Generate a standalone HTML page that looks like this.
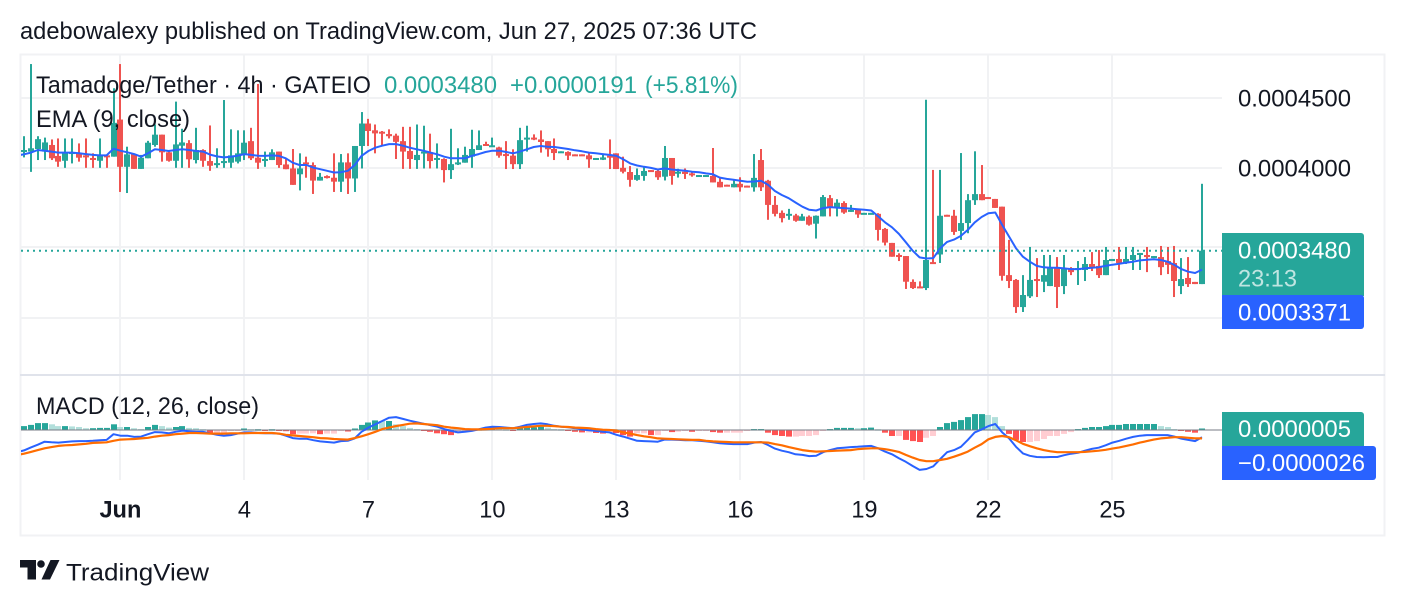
<!DOCTYPE html>
<html lang="en">
<head>
<meta charset="utf-8">
<title>Tamadoge/Tether chart</title>
<style>
html,body{margin:0;padding:0;background:#fff;width:1404px;height:606px;overflow:hidden}
svg{display:block}
text{font-family:"Liberation Sans",sans-serif;font-size:23.6px;fill:#131722}
.up{fill:#26a69a}
.w{fill:#fff}
</style>
</head>
<body>
<svg id="chart" xmlns="http://www.w3.org/2000/svg" width="1404" height="606" viewBox="0 0 1404 606">
  <defs>
    <clipPath id="plot"><rect x="21" y="55" width="1201" height="320"/></clipPath>
    <clipPath id="macdplot"><rect x="21" y="377" width="1201" height="103"/></clipPath>
  </defs>
  <text x="20" y="39" textLength="737" lengthAdjust="spacingAndGlyphs">adebowalexy published on TradingView.com, Jun 27, 2025 07:36 UTC</text>

  <rect x="20.5" y="54.5" width="1364" height="481" fill="none" stroke="#f1f2f4" stroke-width="2"/>

  <g id="grid"></g>
  <g id="candles" clip-path="url(#plot)"></g>
  <polyline id="emaLine" fill="none" stroke="#2962ff" stroke-width="2" stroke-linejoin="round" clip-path="url(#plot)"/>
  <line id="lastPriceLine" x1="21" x2="1222" stroke="#26a69a" stroke-width="2" stroke-dasharray="2 4"/>

  <rect x="20" y="374" width="1365" height="2" fill="#e0e3eb"/>

  <g id="hist" clip-path="url(#macdplot)"></g>
  <line id="zeroLine" x1="21" x2="1222" stroke="#787b86" stroke-opacity="0.5" stroke-width="2"/>
  <polyline id="macdLine" fill="none" stroke="#2962ff" stroke-width="2" stroke-linejoin="round" clip-path="url(#macdplot)"/>
  <polyline id="signalLine" fill="none" stroke="#ff6d00" stroke-width="2.2" stroke-linejoin="round" clip-path="url(#macdplot)"/>

  <text x="36" y="93" textLength="335" lengthAdjust="spacingAndGlyphs">Tamadoge/Tether · 4h · GATEIO</text>
  <text class="up" x="384" y="93" textLength="113" lengthAdjust="spacingAndGlyphs">0.0003480</text>
  <text class="up" x="510" y="93" textLength="127" lengthAdjust="spacingAndGlyphs">+0.0000191</text>
  <text class="up" x="645" y="93" textLength="93" lengthAdjust="spacingAndGlyphs">(+5.81%)</text>
  <text x="36" y="127" textLength="154" lengthAdjust="spacingAndGlyphs">EMA (9, close)</text>
  <text x="36" y="414" textLength="223" lengthAdjust="spacingAndGlyphs">MACD (12, 26, close)</text>

  <g id="priceLabels"></g>
  <g id="timeLabels"></g>

  <path d="M1222 233H1361a3 3 0 0 1 3 3V296H1222Z" fill="#26a69a"/>
  <text class="w" x="1238" y="258.5" textLength="113" lengthAdjust="spacingAndGlyphs">0.0003480</text>
  <text x="1238" y="286.7" textLength="59" lengthAdjust="spacingAndGlyphs" style="fill:#bfe5e1">23:13</text>
  <path d="M1222 295H1361a3 3 0 0 1 3 3V326a3 3 0 0 1-3 3H1222Z" fill="#2962ff"/>
  <text class="w" x="1238" y="320.5" textLength="113" lengthAdjust="spacingAndGlyphs">0.0003371</text>
  <path d="M1222 412H1361a3 3 0 0 1 3 3V447H1222Z" fill="#26a69a"/>
  <text class="w" x="1238" y="437" textLength="113" lengthAdjust="spacingAndGlyphs">0.0000005</text>
  <path d="M1222 446H1373a3 3 0 0 1 3 3V477a3 3 0 0 1-3 3H1222Z" fill="#2962ff"/>
  <text class="w" x="1238" y="471" textLength="127" lengthAdjust="spacingAndGlyphs">−0.0000026</text>

  <g fill="#131722">
    <path d="M20 560H36V579.5H27.5V567.5H20Z"/>
    <circle cx="41" cy="564" r="3.8"/>
    <path d="M50.5 560H59.5L50 579.5H41.5Z"/>
  </g>
  <text x="66" y="580.5" textLength="143" lengthAdjust="spacingAndGlyphs" style="font-size:24.5px">TradingView</text>
</svg>

<script>
// All prices and indicator values are in units of 0.0000001.
// The first entry is a bar that sits just off the left edge of the plot.
const opens = [4100,4112,4112,4130,4112,4158,4082,4049,4100,4100,4086,
4068,4049,4086,4077,4340,4008,4095,3994,4066,4158,
4231,4107,4049,4153,4171,4054,4123,4047,4020,4036,
4036,4043,4095,4185,4070,4049,4054,4112,4024,3997,
3958,4038,4020,3916,3946,3935,3909,4038,3930,4151,
4311,4262,4252,4235,4224,4185,4116,4054,4100,4107,
4056,4061,3986,4024,4036,4077,4123,4165,4146,4141,
4095,4084,4026,4199,4210,4197,4185,4130,4105,4109,
4093,4093,4086,4056,4056,4084,4100,4001,3973,3921,
3947,3986,3980,3942,4068,3964,3975,3964,3942,3942,
3947,3908,3889,3872,3895,3883,3872,4054,3915,3759,
3709,3693,3693,3660,3685,3642,3687,3802,3739,3771,
3715,3728,3699,3699,3703,3610,3526,3455,3449,3302,
3277,3268,3414,3458,3697,3691,3598,3646,3789,3828,
3809,3797,3748,3340,3313,3165,3223,3318,3303,3279,
3385,3279,3380,3369,3369,3403,3392,3340,3420,3432,
3409,3426,3455,3455,3437,3443,3420,3409,3279,3324,
3302,3290];
const highs = [4150,4220,4765,4220,4210,4197,4204,4204,4204,4169,4204,
4100,4204,4086,4575,4765,4146,4095,4089,4187,4304,
4231,4112,4473,4273,4192,4280,4128,4297,4135,4485,
4269,4262,4262,4280,4608,4112,4128,4112,4066,4130,
4100,4077,4038,3967,3951,4100,4095,4100,4151,4395,
4345,4304,4257,4269,4238,4287,4287,4304,4295,4238,
4169,4066,4273,4135,4146,4266,4261,4181,4210,4146,
4185,4128,4280,4295,4233,4261,4185,4204,4114,4114,
4093,4093,4100,4068,4093,4197,4100,4077,4013,3997,
4008,3986,3993,4151,4068,3995,3997,3971,3953,3953,
4137,3932,3889,3925,3938,3883,4095,4130,3921,3816,
3724,3734,3703,3703,3693,3693,3822,3822,3795,3782,
3759,3728,3709,3709,3707,3616,3526,3465,3449,3316,
3305,4487,3987,3987,3697,3728,4102,3828,4114,4020,
3809,3797,3748,3544,3318,3340,3502,3437,3455,3455,
3443,3455,3385,3420,3443,3472,3484,3502,3432,3502,
3502,3502,3467,3502,3449,3508,3502,3508,3437,3443,
3302,3895];
const lows = [4060,4072,3974,4054,4054,4054,4008,4001,4031,4043,4001,
4001,4001,4001,4077,3842,3835,3994,3994,4066,4146,
4043,4043,4001,4001,4001,4031,4008,3981,4001,4001,
4001,4031,4054,4054,3994,4008,4054,4001,3992,3888,
3852,3935,3829,3916,3930,3842,3842,3829,3842,3997,
4151,4100,4153,4204,4061,3994,3994,3994,3997,3997,
3997,3904,3927,4020,4036,4001,4123,4151,4146,4070,
3993,3993,3993,4112,4192,4105,4077,4054,4105,4054,
4084,4084,4001,4056,4054,3993,3993,3964,3876,3915,
3915,3975,3921,3917,3889,3936,3927,3942,3942,3942,
3904,3872,3878,3872,3844,3872,3844,3848,3666,3687,
3650,3666,3654,3660,3630,3552,3687,3687,3687,3703,
3715,3678,3699,3699,3540,3511,3445,3420,3263,3263,
3268,3257,3403,3409,3687,3574,3544,3584,3759,3789,
3797,3740,3309,3268,3134,3139,3214,3219,3246,3279,
3160,3235,3340,3285,3307,3363,3324,3340,3420,3369,
3403,3369,3369,3357,3437,3340,3346,3219,3235,3274,
3290,3290];
const closes = [4112,4123,4135,4199,4176,4066,4043,4105,4109,4070,4072,
4056,4086,4077,4316,4008,4093,3994,4070,4174,4231,
4107,4049,4162,4176,4059,4123,4049,4015,4033,4047,
4086,4100,4174,4066,4036,4061,4107,4020,3992,3888,
3997,4026,3916,3941,3937,3909,4038,3930,4151,4311,
4257,4240,4240,4220,4180,4112,4061,4089,4112,4047,
4068,3986,4026,4038,4089,4130,4156,4151,4156,4084,
4084,4026,4192,4210,4199,4179,4128,4102,4114,4084,
4084,4084,4059,4068,4072,4070,3993,3975,3921,3953,
3980,3975,3938,4068,3947,3975,3960,3953,3953,3953,
3904,3872,3878,3895,3872,3872,3934,3872,3759,3703,
3676,3703,3660,3687,3636,3691,3809,3744,3773,3711,
3728,3699,3709,3709,3604,3528,3445,3447,3303,3268,
3268,3426,3403,3691,3687,3592,3646,3789,3828,3789,
3797,3740,3336,3307,3165,3230,3313,3307,3340,3385,
3274,3380,3357,3380,3403,3385,3340,3426,3432,3409,
3432,3455,3467,3443,3449,3385,3398,3307,3318,3290,
3290,3480];
const ema = [4085,4093,4105,4123,4118,4112,4105,4105,4105,4100,4095,
4089,4086,4086,4132,4118,4107,4095,4077,4100,4128,
4123,4116,4123,4128,4123,4116,4112,4091,4079,4072,
4077,4084,4095,4089,4084,4082,4086,4082,4066,4036,
4020,4020,4003,3992,3981,3970,3972,3981,4020,4082,
4116,4139,4153,4164,4164,4153,4139,4128,4118,4105,
4093,4077,4066,4066,4066,4082,4095,4109,4118,4118,
4109,4100,4112,4128,4144,4151,4146,4144,4137,4130,
4121,4114,4105,4100,4095,4089,4082,4059,4031,4017,
4008,4001,3990,3997,3990,3986,3982,3975,3971,3964,
3958,3936,3927,3921,3915,3908,3910,3915,3889,3848,
3822,3802,3774,3748,3728,3724,3739,3745,3742,3739,
3736,3732,3728,3724,3687,3650,3620,3580,3530,3480,
3441,3435,3437,3494,3532,3546,3568,3604,3650,3683,
3707,3711,3634,3564,3494,3445,3416,3392,3384,3382,
3382,3378,3374,3374,3378,3382,3385,3392,3399,3405,
3411,3416,3424,3428,3430,3426,3416,3398,3374,3359,
3352,3371];
const macd = [-74,-68,-58,-49,-39,-41,-42,-40,-38,-37,-37,
-36,-34,-33,-14,-19,-19,-23,-22,-14,-7,
-8,-11,-6,-2,-4,-6,-6,-11,-16,-19,
-17,-12,-8,-8,-10,-11,-11,-12,-19,-27,
-29,-29,-34,-38,-40,-42,-37,-36,-28,-6,
8,19,30,41,43,37,31,26,21,16,
11,3,-3,-8,-6,-3,2,8,11,10,
8,6,11,17,20,22,19,14,11,9,
6,2,-1,-3,-6,-8,-16,-22,-29,-36,
-37,-38,-39,-32,-32,-33,-34,-34,-36,-38,
-41,-44,-46,-47,-47,-47,-42,-40,-50,-62,
-69,-74,-81,-83,-87,-86,-74,-67,-61,-59,
-57,-56,-54,-53,-61,-72,-81,-94,-106,-120,
-133,-130,-121,-97,-74,-67,-56,-33,-8,2,
13,20,-8,-28,-56,-78,-86,-90,-91,-90,
-90,-84,-79,-76,-69,-63,-59,-51,-42,-36,
-29,-23,-19,-17,-17,-17,-17,-22,-29,-33,
-37,-24];
const signal = [-83,-79,-73,-67,-61,-57,-53,-51,-50,-48,-46,
-43,-42,-41,-36,-32,-31,-30,-28,-26,-22,
-19,-17,-14,-12,-10,-10,-11,-12,-12,-12,
-11,-11,-11,-10,-10,-10,-10,-12,-16,-18,
-20,-22,-24,-27,-28,-30,-31,-32,-27,-21,
-14,-6,3,8,13,17,21,22,20,18,
16,11,8,6,3,2,2,3,4,6,
6,6,8,10,12,14,14,13,11,10,
8,7,6,3,1,0,-2,-8,-12,-17,
-21,-24,-28,-29,-30,-31,-32,-33,-33,-36,
-38,-39,-40,-41,-41,-41,-41,-41,-42,-47,
-51,-57,-62,-67,-70,-72,-71,-70,-69,-68,
-67,-64,-62,-61,-61,-64,-68,-73,-83,-92,
-100,-104,-104,-100,-96,-89,-81,-72,-59,-47,
-31,-23,-20,-24,-34,-46,-54,-61,-67,-71,
-74,-74,-74,-74,-73,-71,-69,-66,-62,-58,
-53,-48,-42,-37,-32,-28,-26,-24,-24,-26,
-28,-28];
const histogram = [10,13,17,23,23,19,13,13,12,10,6,
6,7,7,19,10,10,6,3,10,17,
13,8,10,13,7,6,2,-11,-11,-11,
-3,-3,5,2,2,-3,2,-3,-4,-14,
-12,-12,-11,-14,-12,-12,-3,-5,5,17,
25,32,30,30,19,13,7,3,-3,-6,
-11,-14,-17,-11,-6,2,2,5,8,4,
2,-3,6,9,9,11,8,3,2,-3,
-6,-8,-8,-10,-12,-8,-10,-17,-22,-11,
-11,-17,-17,-3,-7,-6,-2,-6,-2,-2,
-7,-9,-9,-9,-9,-3,3,3,-9,-17,
-20,-22,-22,-20,-20,-17,-2,3,7,7,
7,6,6,8,2,-9,-20,-20,-33,-37,
-40,-26,-20,10,23,27,33,43,53,53,
50,43,13,-13,-33,-40,-40,-37,-30,-20,
-20,-13,-7,3,7,10,10,13,17,17,
20,20,20,20,20,13,10,3,-3,-6,
-9,5];
const timeTickLabels = ["Jun","4","7","10","13","16","19","22","25"];
const timeTickCandles = [15,33,51,69,87,105,123,141,159];
const gridPrices = [4500,4000,3500,3107];
const labeledPrices = [4500,4000];
const lastPrice = 3480;

const SVGNS = "http://www.w3.org/2000/svg";
const candleCount = closes.length;
function xOf(i){ return 1202 - (candleCount - 1 - i) * 6.889; }
function yPrice(p){ return 168 + 594 * Math.log(4000 / p); }
function yMacd(v){ return 430 - v * 0.3; }
function fmt(v){ return (v / 1e7).toFixed(7); }
function mk(tag, attrs, parent){
  const el = document.createElementNS(SVGNS, tag);
  for (const k in attrs) el.setAttribute(k, attrs[k]);
  parent.appendChild(el);
  return el;
}

const grid = document.getElementById("grid");
gridPrices.forEach(function(p){
  const el = mk("rect", {x:21, y:Math.round(yPrice(p)) - 1, width:1201, height:2, fill:"#f1f2f4"}, grid);
  
  
});
timeTickCandles.forEach(function(i){
  const gx = Math.round(xOf(i)) - 1;
  const top = mk("rect", {x:gx, y:55, width:2, height:319, fill:"#f1f2f4"}, grid);
  
  
  const bottom = mk("rect", {x:gx, y:376, width:2, height:104, fill:"#f1f2f4"}, grid);
  
  
});

const candleGroup = document.getElementById("candles");
closes.forEach(function(c, i){
  const o = opens[i];
  const color = c >= o ? "#26a69a" : "#ef5350";
  const cx = Math.round(xOf(i));
  const g = mk("g", {fill:color}, candleGroup);
  
  
  const yh = yPrice(highs[i]);
  const yl = yPrice(lows[i]);
  const wick = mk("rect", {x:cx - 1, y:yh, width:2, height:Math.max(yl - yh, 1)}, g);
  
  
  const yTop = yPrice(Math.max(o, c));
  const yBot = yPrice(Math.min(o, c));
  const body = mk("rect", {x:cx - 3, y:yTop, width:6, height:Math.max(yBot - yTop, 2)}, g);
  
  
});

function linePoints(values, yFn){
  return values.map(function(v, i){ return xOf(i).toFixed(1) + "," + yFn(v).toFixed(1); }).join(" ");
}
document.getElementById("emaLine").setAttribute("points", linePoints(ema, yPrice));
document.getElementById("macdLine").setAttribute("points", linePoints(macd, yMacd));
document.getElementById("signalLine").setAttribute("points", linePoints(signal, yMacd));

const lpl = document.getElementById("lastPriceLine");
lpl.setAttribute("y1", yPrice(lastPrice));
lpl.setAttribute("y2", yPrice(lastPrice));
const zl = document.getElementById("zeroLine");
zl.setAttribute("y1", yMacd(0));
zl.setAttribute("y2", yMacd(0));

const histGroup = document.getElementById("hist");
histogram.forEach(function(v, i){
  const prev = i > 0 ? histogram[i - 1] : v - 1;
  let color;
  if (v >= 0) color = v >= prev ? "#26a69a" : "#b2dfdb";
  else color = v < prev ? "#ff5252" : "#ffcdd2";
  const y0 = yMacd(0);
  const yv = yMacd(v);
  const bar = mk("rect", {x:Math.round(xOf(i)) - 3, y:Math.min(y0, yv), width:6, height:Math.max(Math.abs(yv - y0), 1), fill:color}, histGroup);
  
  
});

const priceLabels = document.getElementById("priceLabels");
labeledPrices.forEach(function(p){
  const t = mk("text", {x:1238, y:yPrice(p) + 8.5, textLength:113, lengthAdjust:"spacingAndGlyphs"}, priceLabels);
  
  
  t.textContent = fmt(p);
});

const timeLabels = document.getElementById("timeLabels");
timeTickLabels.forEach(function(label, k){
  const t = mk("text", {x:xOf(timeTickCandles[k]), y:517.5, "text-anchor":"middle"}, timeLabels);
  
  
  if (label === "Jun") t.setAttribute("font-weight", "bold");
  t.textContent = label;
});
</script>
</body>
</html>
